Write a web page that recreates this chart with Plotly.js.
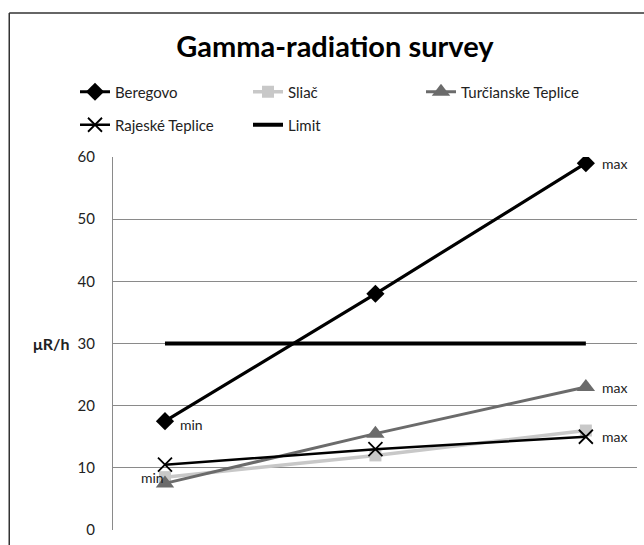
<!DOCTYPE html>
<html>
<head>
<meta charset="utf-8">
<script src="https://cdn.plot.ly/plotly-3.0.1.min.js"></script>
<style>html,body{margin:0;padding:0;background:#fff;}#chart{width:644px;height:545px;}</style>
</head>
<body>
<div id="chart"></div>
<script>
// ---- data ----
var measurements = [1, 2, 3];
var beregovo = [17.5, 38, 59];
var sliac = [8.5, 12, 16];
var turcianske = [7.5, 15.5, 23];
var rajeske = [10.5, 13, 15];
var limitValues = [30, 30, 30];
var yTicks = [0, 10, 20, 30, 40, 50, 60];
var seriesNames = ["Beregovo", "Sliač", "Turčianske Teplice", "Rajeské Teplice", "Limit"];
var labelMin = "min", labelMax = "max";

var FONT = "Lato, 'Open Sans', sans-serif";

var traces = [
  {x: measurements, y: beregovo, name: seriesNames[0], mode: "lines+markers", legend: "legend",
   line: {color: "#000", width: 3.2}, marker: {symbol: "diamond", size: 14, color: "#000"}},
  {x: measurements, y: sliac, name: seriesNames[1], mode: "lines+markers", legend: "legend",
   line: {color: "#c8c8c8", width: 3.5}, marker: {symbol: "square", size: 12, color: "#c8c8c8"}},
  {x: measurements, y: turcianske, name: seriesNames[2], mode: "lines+markers", legend: "legend",
   line: {color: "#6b6b6b", width: 3}, marker: {symbol: "triangle-up", size: 16, color: "#6b6b6b"}},
  {x: measurements, y: rajeske, name: seriesNames[3], mode: "lines+markers", legend: "legend2",
   line: {color: "#000", width: 2.5}, marker: {symbol: "x-thin", size: 14, line: {color: "#000", width: 1.8}}},
  {x: measurements, y: limitValues, name: seriesNames[4], mode: "lines", legend: "legend2",
   line: {color: "#000", width: 4}}
];

var last = measurements.length - 1;
var annFont = {family: FONT, size: 14, color: "#222"};
var annotations = [
  {x: measurements[0], y: beregovo[0], text: labelMin, xanchor: "left", xshift: 13, yshift: -3},
  {x: measurements[last], y: beregovo[last], text: labelMax, xanchor: "left", xshift: 14},
  {x: measurements[last], y: turcianske[last], text: labelMax, xanchor: "left", xshift: 14},
  {x: measurements[last], y: rajeske[last], text: labelMax, xanchor: "left", xshift: 14},
  {x: measurements[0], y: sliac[0], text: labelMin, xanchor: "center", xshift: -12, yshift: 0},
  {xref: "paper", yref: "y", x: -0.08, y: 30, text: "<b>μR/h</b>", xanchor: "right", font: {family: FONT, size: 16, color: "#222"}}
].map(function(a){ a.showarrow = false; if(!a.font) a.font = annFont; return a; });

// plot area: x 113..637 px, y 157..530 px
function legendAt(yPx) {
  return {orientation: "h", xref: "paper", yref: "paper", x: (75 - 113) / 524, xanchor: "left",
          y: (530 - yPx) / 373, yanchor: "middle", entrywidth: 128, entrywidthmode: "pixels",
          traceorder: "normal", font: {family: FONT, size: 15, color: "#222"},
          bgcolor: "rgba(0,0,0,0)", borderwidth: 0};
}

var layout = {
  width: 644, height: 545,
  margin: {l: 113, r: 7, t: 157, b: 15},
  paper_bgcolor: "#fff", plot_bgcolor: "#fff",
  font: {family: FONT, color: "#222"},
  title: {text: "<b>Gamma-radiation survey</b>", font: {family: FONT, size: 29, color: "#000"},
          x: 0.52, xanchor: "center", y: 1 - 47 / 545, yanchor: "middle"},
  showlegend: true,
  legend: legendAt(92),
  legend2: legendAt(125),
  xaxis: {range: [0.753, 3.243], showgrid: false, zeroline: false, showticklabels: false,
          showline: false, ticks: "", fixedrange: true},
  yaxis: {range: [0, 60], tickvals: yTicks, showgrid: true, gridcolor: "#8a8a8a", gridwidth: 1,
          zeroline: false, showline: true, linecolor: "#8a8a8a", linewidth: 1, ticks: "",
          ticklabelstandoff: 14, tickfont: {family: FONT, size: 15, color: "#222"}},
  annotations: annotations,
  shapes: [
    {type: "line", xref: "paper", yref: "paper", x0: -0.198, x1: -0.198, y0: -0.1, y1: 1.386,
     line: {color: "#333", width: 1.5}},
    {type: "line", xref: "paper", yref: "paper", x0: -0.198, x1: 1.02, y0: 1.386, y1: 1.386,
     line: {color: "#333", width: 1.5}}
  ]
};

Plotly.newPlot("chart", traces, layout, {displayModeBar: false, staticPlot: true});
</script>
</body>
</html>
